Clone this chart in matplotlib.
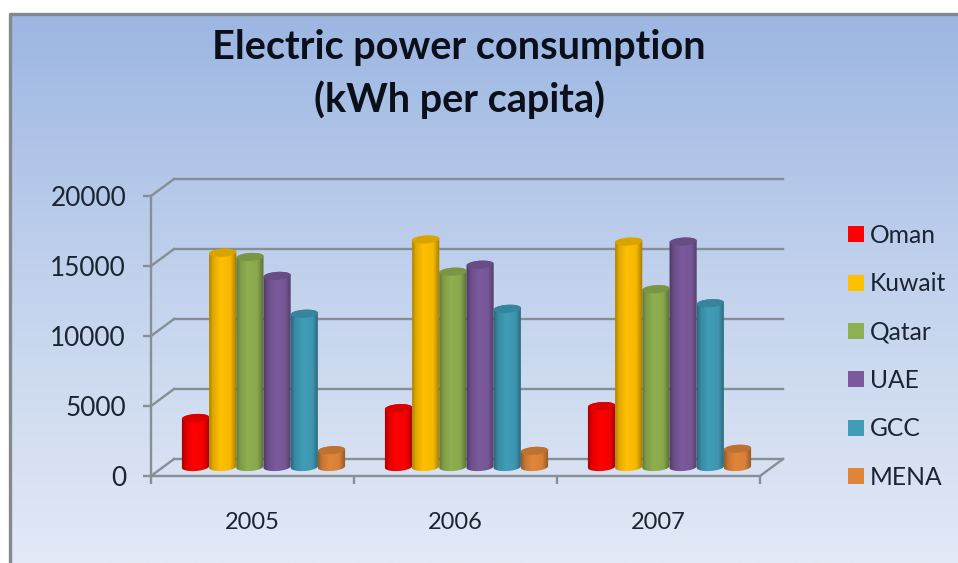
import numpy as np
import matplotlib
matplotlib.use('Agg')
import matplotlib.pyplot as plt
from matplotlib.colors import to_rgb, LinearSegmentedColormap
from matplotlib.patches import Ellipse, PathPatch, Patch
from matplotlib.path import Path
from matplotlib.transforms import Affine2D, IdentityTransform

plt.rcParams['font.family'] = ['Lato', 'DejaVu Sans']

years = ['2005', '2006', '2007']
oman = [3500, 4200, 4350]
kuwait = [15300, 16250, 16100]
qatar = [15000, 13950, 12700]
uae = [13650, 14450, 16100]
gcc = [10950, 11300, 11700]
mena = [1200, 1150, 1300]

series = [oman, kuwait, qatar, uae, gcc, mena]
names = ['Oman', 'Kuwait', 'Qatar', 'UAE', 'GCC', 'MENA']
colors = ['#FF0000', '#FFC000', '#8FAF50', '#7A5A9C', '#409DB8', '#E0863A']

W, H = 958, 563
GREY = '#868E96'
TEXT = '#1B2433'
BAR_W = 0.134


def shade(color, f):
    return tuple(c * f for c in to_rgb(color))


def cylinder(ax, x0, x1, value, color):
    # bars sit half way into the floor, so shift by (dx, dy) px
    dx, dy = 11, 9
    left, base = ax.transData.transform((x0, 0)) + (dx, dy)
    right, top = ax.transData.transform((x1, value)) + (dx, dy)
    cx = (left + right) / 2
    a, b = (right - left) / 2, 4.0
    tilt = np.radians(4)

    def arc(yc, t):
        px = a * np.cos(t)
        py = b * np.sin(t)
        return np.column_stack((cx + px * np.cos(tilt) - py * np.sin(tilt),
                                yc + px * np.sin(tilt) + py * np.cos(tilt)))

    low = arc(base, np.linspace(np.pi, 2 * np.pi, 30))
    high = arc(top, np.linspace(0, np.pi, 30))
    verts = np.vstack((low, high, low[:1]))
    codes = [Path.MOVETO] + [Path.LINETO] * (len(verts) - 2) + [Path.CLOSEPOLY]
    body = PathPatch(Path(verts, codes), transform=IdentityTransform(),
                     fc='none', ec='none', zorder=3)
    ax.add_patch(body)

    cmap = LinearSegmentedColormap.from_list('c', [
        (0.0, shade(color, 0.62)), (0.16, shade(color, 0.88)),
        (0.42, shade(color, 1.0)), (0.75, shade(color, 0.96)),
        (1.0, shade(color, 0.58))])
    img = ax.imshow(np.linspace(0, 1, 64).reshape(1, -1), cmap=cmap, aspect='auto',
                    extent=(left - 1, right + 1, base - 8, top + 8),
                    transform=IdentityTransform(), zorder=3)
    img.set_clip_path(body)

    cap = Ellipse((cx, top), 2 * a, 2 * b, angle=4, fc=shade(color, 0.85), ec='none',
                  transform=IdentityTransform(), zorder=3.1)
    cap.set_clip_on(False)
    ax.add_patch(cap)


fig = plt.figure(figsize=(W / 100, H / 100), dpi=100, facecolor='white')

bg = fig.add_axes([9 / W, 0, 1 - 9 / W, 1 - 13 / H])
grad = np.linspace(0, 1, 256).reshape(-1, 1)
bg_cmap = LinearSegmentedColormap.from_list('bg', ['#9CB6E2', '#C3D3ED', '#E3E9F6'])
bg.imshow(grad, cmap=bg_cmap, aspect='auto')
bg.axis('off')
fig.add_artist(plt.Line2D([9.5 / W, 9.5 / W, 1], [0, 1 - 13.5 / H, 1 - 13.5 / H],
                          color='#85898F', lw=2.4))

ax = fig.add_axes([151 / W, (H - 476) / H, 609 / W, 280 / H])
ax.patch.set_alpha(0)
ax.set_xlim(-0.5, 2.5)
ax.set_ylim(0, 20000)

# back wall of the fake 3D box, 23 px right and 17 px up from the front axes
back = ax.transData + Affine2D().translate(23, 17)
yticks = [0, 5000, 10000, 15000, 20000]
for v in yticks:
    ax.plot([-0.5, 2.5], [v, v], color=GREY, lw=1.7, transform=back, clip_on=False, zorder=1)
    p0 = ax.transData.transform((-0.5, v))
    ax.plot([p0[0], p0[0] + 23], [p0[1], p0[1] + 17], color=GREY, lw=1.7,
            transform=IdentityTransform(), clip_on=False, zorder=1)
p1 = ax.transData.transform((2.5, 0))
ax.plot([p1[0], p1[0] + 23], [p1[1], p1[1] + 17], color=GREY, lw=1.7,
        transform=IdentityTransform(), clip_on=False, zorder=1)

for i, (vals, color) in enumerate(zip(series, colors)):
    for j, v in enumerate(vals):
        x0 = j + (i - 3) * BAR_W
        cylinder(ax, x0, x0 + BAR_W, v, color)

ax.set_xlim(-0.5, 2.5)
ax.set_ylim(0, 20000)

for s in ['top', 'right']:
    ax.spines[s].set_visible(False)
for s in ['left', 'bottom']:
    ax.spines[s].set_color(GREY)
    ax.spines[s].set_linewidth(1.7)

ax.set_yticks(yticks)
ax.set_xticks([-0.5, 0.5, 1.5, 2.5])
ax.set_xticklabels([])
ax.set_xticks([0, 1, 2], labels=years, minor=True)
ax.tick_params(axis='both', which='major', length=6, width=1.7, color=GREY,
               labelsize=18.8, labelcolor=TEXT)
ax.tick_params(axis='y', pad=12)
ax.tick_params(axis='x', which='minor', length=0, pad=26, labelsize=17, labelcolor=TEXT)

handles = [Patch(fc=c, ec='none', label=n) for n, c in zip(names, colors)]
ax.legend(handles=handles, loc='upper left', bbox_to_anchor=(848 / W, (H - 224) / H),
          bbox_transform=fig.transFigure, frameon=False, fontsize=17.7, labelcolor=TEXT,
          handlelength=0.65, handleheight=0.62, handletextpad=0.25,
          labelspacing=1.03, borderpad=0, borderaxespad=0)

fig.text(459 / W, 1 - 47 / H, 'Electric power consumption', ha='center', va='center',
         fontsize=28.5, fontweight='bold', color='#0A0F1A')
fig.text(459 / W, 1 - 100 / H, '(kWh per capita)', ha='center', va='center',
         fontsize=28.5, fontweight='bold', color='#0A0F1A')

fig.savefig('out.png', dpi=100)
